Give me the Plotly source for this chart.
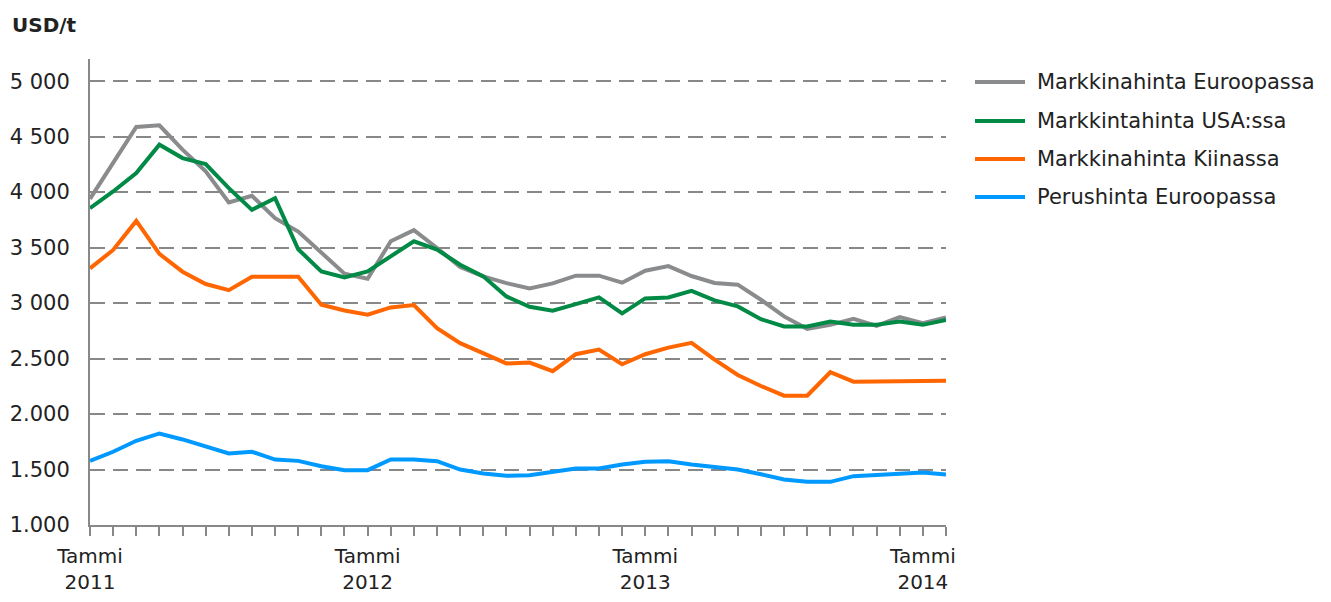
import plotly.graph_objects as go

months = list(range(38))  # Jan 2011 .. Feb 2014
tick_positions = [0, 12, 24, 36]
tick_labels = ["Tammi<br>2011", "Tammi<br>2012", "Tammi<br>2013", "Tammi<br>2014"]

europe_market = [3940, 4262, 4587, 4602, 4383, 4187, 3907, 3967, 3765, 3645,
                 3452, 3265, 3220, 3557, 3657, 3497, 3325, 3241, 3180, 3133,
                 3178, 3247, 3247, 3184, 3292, 3334, 3244, 3181, 3166, 3030,
                 2880, 2768, 2804, 2858, 2795, 2874, 2819, 2870]
usa_market = [3855, 4006, 4172, 4428, 4307, 4253, 4036, 3840, 3946, 3485,
              3286, 3232, 3286, 3422, 3557, 3482, 3346, 3241, 3060, 2967,
              2931, 2991, 3051, 2907, 3042, 3051, 3111, 3025, 2970, 2855,
              2789, 2789, 2834, 2804, 2804, 2834, 2804, 2849]
china_market = [3313, 3479, 3741, 3443, 3283, 3172, 3117, 3238, 3238, 3238,
                2985, 2934, 2895, 2961, 2982, 2774, 2639, 2548, 2456, 2464,
                2386, 2539, 2581, 2449, 2539, 2599, 2642, 2490, 2352, 2253,
                2166, 2166, 2377, 2292, 2292, 2301, 2301, 2301]
europe_base = [1578, 1660, 1759, 1825, 1771, 1705, 1645, 1660, 1590, 1578,
               1530, 1494, 1494, 1590, 1590, 1575, 1500, 1464, 1443, 1449,
               1479, 1509, 1509, 1545, 1569, 1575, 1545, 1524, 1500, 1458,
               1410, 1389, 1389, 1440, 1449, 1458, 1473, 1455]

series_names = ["Markkinahinta Euroopassa", "Markkintahinta USA:ssa",
                "Markkinahinta Kiinassa", "Perushinta Euroopassa"]
series_values = [europe_market, usa_market, china_market, europe_base]
colors = ["#898b8d", "#008a46", "#ff6600", "#0099ff"]

y_tick_values = [1000, 1500, 2000, 2500, 3000, 3500, 4000, 4500, 5000]
y_tick_labels = ["1.000", "1.500", "2.000", "2.500", "3 000", "3 500", "4 000", "4 500", "5 000"]

FONT = "DejaVu Sans"
TXT = "#222222"
AX = "#888888"

fig = go.Figure()
for name, vals, col in zip(series_names, series_values, colors):
    fig.add_trace(go.Scatter(x=months, y=vals, mode="lines", name=name,
                             line=dict(color=col, width=4), showlegend=False))

OFF = 8  # page body margin
W, H = 1331 - 2 * OFF, 602 - 2 * OFF
L, R, T, B = 90 - OFF, 1331 - 946 - OFF, 59 - OFF, 602 - 525 - OFF
pw = W - L - R
ph = H - T - B

def px_x(p):
    return (p - OFF - L) / pw

def px_y(p):
    return 1 - (p - OFF - T) / ph

# manual legend
legend_y = [82, 121, 159, 197]
for name, col, yy in zip(series_names, colors, legend_y):
    fig.add_shape(type="line", xref="paper", yref="paper",
                  x0=px_x(975), x1=px_x(1025), y0=px_y(yy), y1=px_y(yy),
                  line=dict(color=col, width=4))
    fig.add_annotation(xref="paper", yref="paper", x=px_x(1035), y=px_y(yy),
                       text=name, showarrow=False, xanchor="left", yanchor="middle",
                       font=dict(family=FONT, size=21, color=TXT))

fig.add_annotation(xref="paper", yref="paper", x=px_x(10), y=px_y(25),
                   text="<b>USD/t</b>", showarrow=False, xanchor="left", yanchor="middle",
                   font=dict(family=FONT, size=20, color=TXT))

all_ticktext = ["" for _ in months]
for p, t in zip(tick_positions, tick_labels):
    all_ticktext[p] = t

fig.update_layout(
    width=W, height=H,
    margin=dict(l=L, r=R, t=T, b=B, pad=0, autoexpand=False),
    paper_bgcolor="white", plot_bgcolor="white",
    font=dict(family=FONT, size=20, color=TXT),
    xaxis=dict(range=[0, 37], tickmode="array", tickvals=months, ticktext=all_ticktext,
               ticks="outside", ticklen=9, tickwidth=2, tickcolor=AX,
               showline=True, linecolor=AX, linewidth=2, showgrid=False, zeroline=False,
               ticklabelstandoff=3, automargin=False,
               tickfont=dict(family=FONT, size=20, color=TXT), tickangle=0),
    yaxis=dict(range=[1000, 5200], tickmode="array", tickvals=y_tick_values, ticktext=y_tick_labels,
               showline=True, linecolor=AX, linewidth=2, ticks="",
               showgrid=True, gridcolor=AX, gridwidth=2, griddash="15px,8px",
               zeroline=False, ticklabelstandoff=14, automargin=False,
               tickfont=dict(family=FONT, size=21, color=TXT)),
)

fig.write_html("out.html")
